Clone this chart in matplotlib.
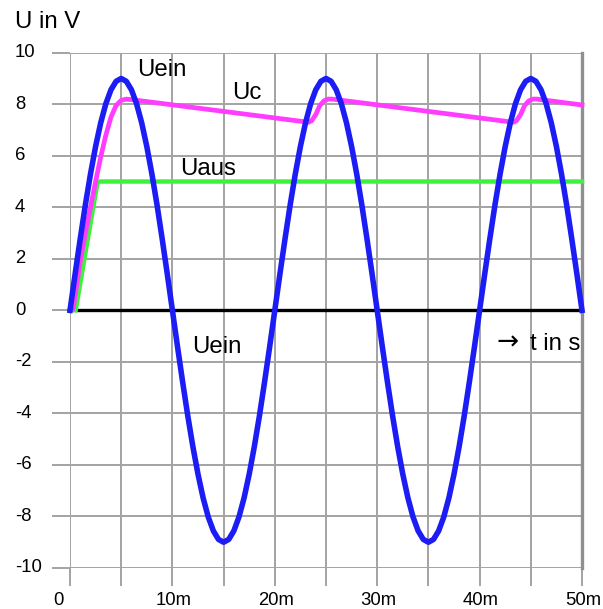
import matplotlib
matplotlib.use("Agg")
import matplotlib.pyplot as plt
from matplotlib.transforms import blended_transform_factory, offset_copy

# ---------------- data (time in ms, voltage in V) ----------------
uein_step_ms = 0.5
uein_v = [
    0, 1.41, 2.78, 4.09, 5.29, 6.36, 7.28, 8.02, 8.56, 8.89, 9.0,
    8.89, 8.56, 8.02, 7.28, 6.36, 5.29, 4.09, 2.78, 1.41, 0,
    -1.41, -2.78, -4.09, -5.29, -6.36, -7.28, -8.02, -8.56, -8.89, -9.0,
    -8.89, -8.56, -8.02, -7.28, -6.36, -5.29, -4.09, -2.78, -1.41, 0,
    1.41, 2.78, 4.09, 5.29, 6.36, 7.28, 8.02, 8.56, 8.89, 9.0,
    8.89, 8.56, 8.02, 7.28, 6.36, 5.29, 4.09, 2.78, 1.41, 0,
    -1.41, -2.78, -4.09, -5.29, -6.36, -7.28, -8.02, -8.56, -8.89, -9.0,
    -8.89, -8.56, -8.02, -7.28, -6.36, -5.29, -4.09, -2.78, -1.41, 0,
    1.41, 2.78, 4.09, 5.29, 6.36, 7.28, 8.02, 8.56, 8.89, 9.0,
    8.89, 8.56, 8.02, 7.28, 6.36, 5.29, 4.09, 2.78, 1.41, 0,
]
uein_t = [i * uein_step_ms for i in range(len(uein_v))]

uc_t = [0, 0.3, 1.0, 1.5, 2.0, 2.5, 3.0, 3.5, 4.0, 4.5, 5.0, 5.5, 6.0,
        23.3, 23.6, 24.0, 24.4, 24.8, 25.2, 25.6,
        43.3, 43.6, 44.0, 44.4, 44.8, 45.2, 45.6, 50.0]
uc_v = [0, 0.05, 1.9, 3.0, 4.0, 5.0, 5.95, 6.8, 7.5, 7.95, 8.15, 8.2, 8.18,
        7.3, 7.36, 7.6, 7.95, 8.13, 8.2, 8.2,
        7.3, 7.36, 7.6, 7.95, 8.13, 8.2, 8.2, 7.97]

uaus_t = [0, 0.55, 2.7, 50.0]
uaus_v = [0, 0, 5.0, 5.0]

zero_t = [0.5, 50.0]
zero_v = [0, 0]

x_ticks = [0, 10, 20, 30, 40, 50]
x_tick_labels = ["0", "10m", "20m", "30m", "40m", "50m"]
x_grid = [0, 5, 10, 15, 20, 25, 30, 35, 40, 45, 50]
y_ticks = [10, 8, 6, 4, 2, 0, -2, -4, -6, -8, -10]
y_tick_labels = ["10", "8", "6", "4", "2", "0", "-2", "-4", "-6", "-8", "-10"]

# ---------------- figure ----------------
W, H, DPI = 603, 609, 100
fig = plt.figure(figsize=(W / DPI, H / DPI), dpi=DPI)
fig.patch.set_facecolor("white")
ax = fig.add_axes([70 / W, 1 - 568 / H, 512 / W, (568 - 52.7) / H])
ax.set_xlim(0, 50)
ax.set_ylim(-10, 10)

font = ["Liberation Sans", "DejaVu Sans"]
gcol = "#a3a3a3"
glw = 1.4

ax.set_xticks(x_grid)
ax.set_yticks(y_ticks)
ax.set_xticklabels([])
ax.set_yticklabels([])
ax.tick_params(axis="both", direction="out", length=18 * 72 / DPI,
               width=glw, color=gcol)
ax.grid(True, color=gcol, lw=glw)
ax.set_axisbelow(True)
for s in ("top", "bottom", "left"):
    ax.spines[s].set_visible(False)
ax.spines["right"].set_color("#8f8f8f")
ax.spines["right"].set_linewidth(2.4)

# curves
ax.plot(zero_t, zero_v, color="black", lw=2.4, solid_capstyle="butt", zorder=3)
ax.plot(uaus_t, uaus_v, color="#3cf23c", lw=3.2, zorder=4, clip_on=False,
        solid_joinstyle="miter")
ax.plot(uc_t, uc_v, color="#ff3cff", lw=3.4, zorder=5, clip_on=False)
ax.plot(uein_t, uein_v, color="#1c1cf4", lw=4.0, zorder=6, clip_on=False)

# tick labels
tsz = 13.3
ytr = blended_transform_factory(fig.transFigure, ax.transData)
for v, lab in zip(y_ticks, y_tick_labels):
    ax.text(15 / W, v, lab, transform=ytr, ha="left", va="center",
            fontsize=tsz, family=font)
xtr = offset_copy(blended_transform_factory(ax.transData, fig.transFigure),
                  fig=fig, x=-17, y=0, units="dots")
for v, lab in zip(x_ticks, x_tick_labels):
    ax.text(v, 1 - 605 / H, lab, transform=xtr, ha="left", va="baseline",
            fontsize=tsz, family=font)

# annotations
asz = 17.3
def ftext(px, py, s, fam=font, size=asz):
    fig.text(px / W, 1 - py / H, s, ha="left", va="baseline",
             fontsize=size, family=fam)

ftext(15, 28, "U in V")
ftext(137, 76, "Uein")
ftext(232, 99, "Uc")
ftext(180, 175, "Uaus")
ftext(192, 353, "Uein")
ftext(497, 350, "\u2192", fam=["DejaVu Sans"], size=19)
ftext(530, 350, "t in s")

fig.savefig("out.png", dpi=DPI)
